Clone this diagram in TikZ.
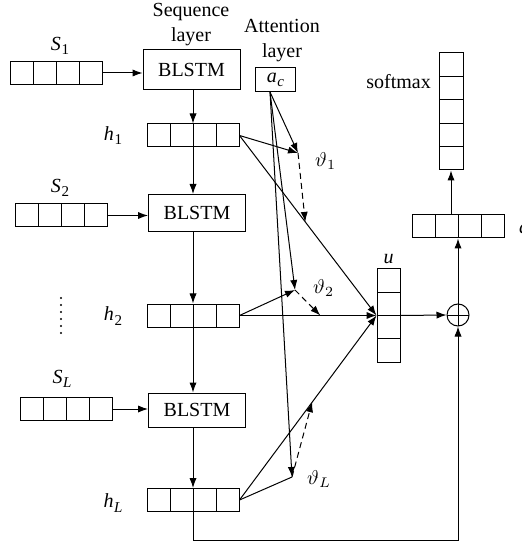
\documentclass[tikz,border=0pt]{standalone}
\usepackage{fontspec}
\setmainfont{Liberation Serif}
\usetikzlibrary{arrows.meta,calc}
\newcommand{\vname}[2]{\textit{#1}\kern0.3pt\raisebox{-0.45ex}{\fontsize{7.5}{8}\selectfont #2}}
\begin{document}
\begin{tikzpicture}[x=0.5pt, y=-0.5pt, line width=0.5pt,
  font=\fontsize{10}{12}\selectfont,
  arr/.style={-{Latex[length=5pt,width=3.6pt]}},
  dsh/.style={dash pattern=on 3pt off 2pt},
  hvec/.style={draw, minimum width=46pt, minimum height=11.5pt, inner sep=0pt,
    path picture={\foreach \k in {1,2,3}{\draw
      ($(path picture bounding box.south west)!\k/4!(path picture bounding box.south east)$) --
      ($(path picture bounding box.north west)!\k/4!(path picture bounding box.north east)$);}}},
  uvec/.style={draw, minimum width=11.5pt, minimum height=46.5pt, inner sep=0pt,
    path picture={\foreach \k in {1,2,3}{\draw
      ($(path picture bounding box.south west)!\k/4!(path picture bounding box.north west)$) --
      ($(path picture bounding box.south east)!\k/4!(path picture bounding box.north east)$);}}},
  svec/.style={draw, minimum width=12pt, minimum height=58.5pt, inner sep=0pt,
    path picture={\foreach \k in {1,2,3,4}{\draw
      ($(path picture bounding box.south west)!\k/5!(path picture bounding box.north west)$) --
      ($(path picture bounding box.south east)!\k/5!(path picture bounding box.north east)$);}}},
  lstm/.style={draw, minimum width=48.5pt, minimum height=18.5pt, inner sep=0pt},
  oplus/.style={draw, circle, minimum size=11pt, inner sep=0pt,
    path picture={\draw (path picture bounding box.north) -- (path picture bounding box.south)
      (path picture bounding box.west) -- (path picture bounding box.east);}}]
\useasboundingbox (0,0) rectangle (522,544);

% column headings
\node[align=center, font=\fontsize{10}{12.5}\selectfont] (seqhead) at (191,25) {Sequence\\layer};
\node[align=center, font=\fontsize{10}{12.5}\selectfont] (atthead) at (282,41) {Attention\\layer};

% sequence layer
\node[hvec] (s1) at (56.5,73) {};
\node[lstm, minimum height=20pt] (b1) at (191.5,70) {BLSTM};
\node[hvec] (h1) at (193,135.5) {};
\node[hvec] (s2) at (61.5,215.5) {};
\node[lstm] (b2) at (197,213) {BLSTM};
\node[hvec] (h2) at (193,315.5) {};
\node[hvec] (sL) at (66.5,409) {};
\node[lstm, minimum height=17pt] (bL) at (197,410) {BLSTM};
\node[hvec] (hL) at (193,500) {};

\node (ls1) at (60,46) {\vname{S}{1}};
\node (ls2) at (60,188) {\vname{S}{2}};
\node (lsL) at (62,379) {\vname{S}{\textit{L}}};
\node (lh1) at (113,136) {\vname{h}{1}};
\node (lh2) at (113,316) {\vname{h}{2}};
\node (lhL) at (113,503) {\vname{h}{\textit{L}}};

% vertical ellipsis between h2 and the last row
\foreach \yy in {298,305,312,319,326,333}{\fill (61,\yy) circle (0.55pt);}

% attention layer
\node[draw, minimum width=20pt, minimum height=12pt, inner sep=0pt] (ac) at (275.5,80) {\vname{a}{\textit{c}}};
\coordinate (acb) at (270,92);
\coordinate (t1) at (298,153);
\coordinate (t2) at (295,290);
\coordinate (tL) at (292,477);
\node[anchor=west] (lt1) at (308,161) {$\vartheta_1$};
\node[anchor=west] (lt2) at (306,288) {$\vartheta_2$};
\node[anchor=west] (ltL) at (300,479) {$\vartheta_L$};

% output side
\node[uvec] (u) at (388.5,315.5) {};
\node (lu) at (388.5,259) {\textit{u}};
\node[oplus] (op) at (458,315) {};
\node[hvec] (d) at (458,226.5) {};
\node[anchor=west] (ld) at (512,227) {\textit{d}};
\node[svec] (sm) at (451,111.5) {};
\node[anchor=east] (lsm) at (438,82) {softmax};

% recurrent chain
\draw[arr] (s1) -- (s1 -| b1.west);
\draw[arr] (h1.north |- b1.south) -- (h1.north);
\draw[arr] (h1.south) -- (h1.south |- b2.north);
\draw[arr] (s2) -- (s2 -| b2.west);
\draw[arr] (h2.north |- b2.south) -- (h2.north);
\draw[arr] (h2.south) -- (h2.south |- bL.north);
\draw[arr] (sL) -- (sL -| bL.west);
\draw[arr] (hL.north |- bL.south) -- (hL.north);

% attention weights
\draw[arr] (acb) -- (t1);
\draw[arr] (acb) -- (t2);
\draw[arr] (acb) -- (tL);
\draw[arr] (h1.east) -- (t1);
\draw[arr] (h2.east) -- (t2);
\draw (hL.east) -- (tL);

% hidden states into the context vector
\draw[arr] (h1.east) -- (u.west);
\draw[arr] (h2.east) -- (u.west);
\draw[arr] (hL.east) -- (u.west);

% weights scaling each path
\coordinate (e1) at ($(h1.east)!0.48!(u.west)$);
\coordinate (e2) at ($(h2.east)!0.59!(u.west)$);
\coordinate (eL) at ($(hL.east)!0.53!(u.west)$);
\draw[arr, dsh] (t1) -- (e1);
\draw[arr, dsh] (t2) -- (e2);
\draw[arr, dsh] (tL) -- (eL);

% residual connection and output
\coordinate (loop) at (458,540);
\draw[arr] (hL.south) |- (loop) -- (op.south);
\draw[arr] (u.east) -- (op.west);
\draw[arr] (op.north) -- (d.south);
\draw[arr] (d.north -| sm) -- (sm.south);
\end{tikzpicture}
\end{document}
